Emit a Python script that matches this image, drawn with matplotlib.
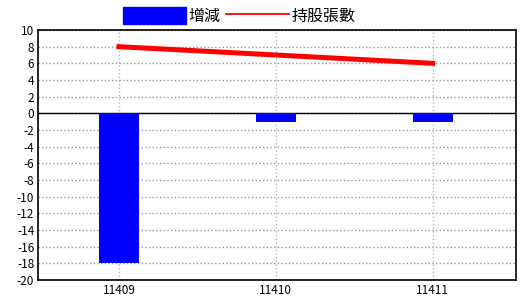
import matplotlib.pyplot as plt
from matplotlib.patches import Patch
from matplotlib.lines import Line2D

plt.rcParams['font.family'] = ['Noto Sans CJK TC', 'DejaVu Sans']
plt.rcParams['axes.unicode_minus'] = False

months = ['11409', '11410', '11411']
change = [-18, -1, -1]
shares = [8, 7, 6]

fig = plt.figure(figsize=(5.2, 3.0), dpi=100)
ax = fig.add_axes([0.074, 0.0667, 0.918, 0.8333])

x = range(len(months))
ax.bar(x, change, width=0.255, color='#0000ff', zorder=3)
ax.plot(x, shares, color='#ff0000', lw=3.6, zorder=4)

ax.axhline(0, color='black', lw=1, zorder=2)
ax.set_xlim(-0.513, 2.53)
ax.set_ylim(-20, 10)
ax.set_yticks(range(-20, 11, 2))
ax.set_xticks(list(x))
ax.set_xticklabels(months)
ax.tick_params(length=0, labelsize=8.5, pad=3)

ax.grid(axis='y', color='#999999', ls=':', lw=1)
ax.grid(axis='x', color='#a8bccc', ls=':', lw=1)
ax.set_axisbelow(True)
for s in ax.spines.values():
    s.set_linewidth(1.2)

handles = [Patch(color='#0000ff'), Line2D([], [], color='#ff0000', lw=1.3)]
fig.legend(handles, ['增減', '持股張數'], loc='upper center',
           bbox_to_anchor=(0.46, 1.025), ncol=2, frameon=False, fontsize=11.5,
           handlelength=4.0, handleheight=1.3, handletextpad=0.15,
           columnspacing=0.3)

plt.savefig('out.png')
